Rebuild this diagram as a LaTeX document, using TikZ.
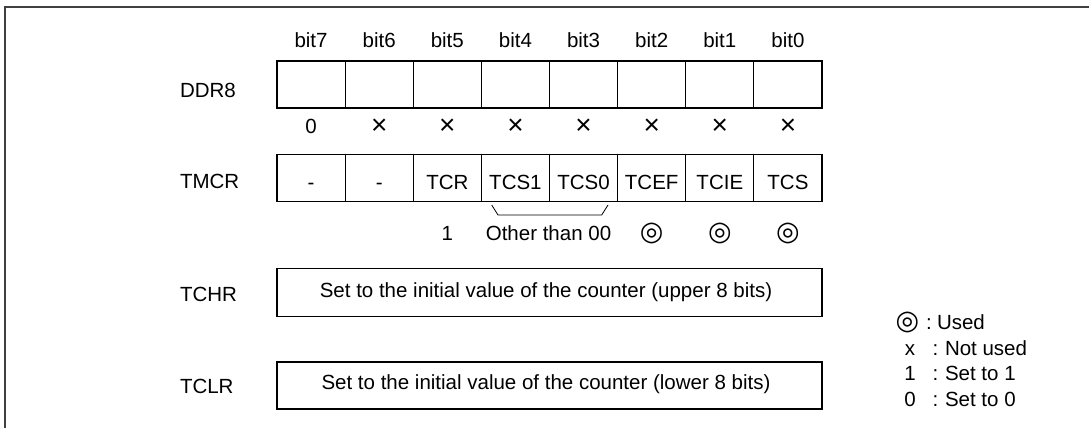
\documentclass[tikz,border=0pt]{standalone}
\usepackage{fontspec}
\setmainfont{Liberation Sans}
\newfontfamily\symfont{DejaVu Sans}
\begin{document}
\begin{tikzpicture}[x=1pt,y=-1pt,
  every node/.style={inner sep=0pt, outer sep=0pt},
  txt/.style={font=\fontsize{20.5}{24}\selectfont},
  cell/.style={minimum width=68.125pt, minimum height=47pt},
  outerbox/.style={draw, line width=1.8pt},
  divider/.style={line width=0.9pt},
  sym/.style={font=\symfont\fontsize{27}{30}\selectfont},
  cross/.style={font=\fontsize{28}{30}\selectfont}]
\useasboundingbox (0,0) rectangle (1089,428);
\draw[line width=1.2pt, black!75] (5,428) -- (5,7) -- (1089,7);
% register labels
\node[txt, anchor=base west] (lddr) at (180,97) {DDR8};
\node[txt, anchor=base west] (ltmcr) at (180,188) {TMCR};
\node[txt, anchor=base west] (ltchr) at (180,301) {TCHR};
\node[txt, anchor=base west] (ltclr) at (180,393) {TCLR};
% cells
\foreach \i/\b in {0/7,1/6,2/5,3/4,4/3,5/2,6/1,7/0}{
  \node[cell] (d\b) at ({277+68.125*(\i+0.5)},84.5) {};
  \node[cell] (t\b) at ({277+68.125*(\i+0.5)},178) {};
  \node[txt, anchor=base] (bit\b) at ({277+68.125*(\i+0.5)},48) {bit\b};
}
\foreach \b in {7,6,5,4,3,2,1}{
  \draw[divider] (d\b.north east) -- (d\b.south east);
  \draw[divider] (t\b.north east) -- (t\b.south east);
}
\draw[outerbox] (d7.north west) rectangle (d0.south east);
\draw[outerbox] (t7.north west) rectangle (t0.south east);
% DDR8 values
\node[txt, anchor=base] (v7) at (d7 |- 0,133) {0};
\foreach \b in {6,5,4,3,2,1,0}{
  \node[cross] (v\b) at (d\b |- 0,127) {×};
}
% TMCR bit names
\foreach \b/\n in {7/-,6/-,5/TCR,4/TCS1,3/TCS0,2/TCEF,1/TCIE,0/TCS}{
  \node[txt, anchor=base] (n\b) at (t\b |- 0,189) {\n};
}
% bracket under TCS1/TCS0
\coordinate (br1) at (491.7,205);
\coordinate (br2) at (498,215);
\coordinate (br3) at (601.7,215);
\coordinate (br4) at (608,205);
\draw[line width=0.8pt] (br1) -- (br2) -- (br3) -- (br4);
% settings row
\node[txt, anchor=base] (s5) at (t5 |- 0,240) {1};
\node[txt, anchor=base] (s43) at (548.5,240) {Other than 00};
\foreach \b in {2,1,0}{
  \node[sym] (s\b) at (t\b |- 0,233) {◎};
}
% counter registers
\node[outerbox, minimum width=545pt, minimum height=48pt] (tchr) at (549.5,292.5) {};
\node[txt, anchor=base] (tchrt) at (546,297) {Set to the initial value of the counter (upper 8 bits)};
\node[outerbox, minimum width=545pt, minimum height=47pt] (tclr) at (549.5,385.5) {};
\node[txt, anchor=base] (tclrt) at (546,389) {Set to the initial value of the counter (lower 8 bits)};
% legend
\node[sym] (g1s) at (907.5,322.5) {◎};
\node[txt, anchor=base] (g1c) at (929,329.5) {:};
\node[txt, anchor=base west] (g1t) at (937,329.5) {Used};
\node[txt, anchor=base] (g2s) at (910,355) {x};
\node[txt, anchor=base] (g2c) at (935.5,355) {:};
\node[txt, anchor=base west] (g2t) at (945,355) {Not used};
\node[txt, anchor=base] (g3s) at (910,380.5) {1};
\node[txt, anchor=base] (g3c) at (935.5,380.5) {:};
\node[txt, anchor=base west] (g3t) at (945,380.5) {Set to 1};
\node[txt, anchor=base] (g4s) at (910,406) {0};
\node[txt, anchor=base] (g4c) at (935.5,406) {:};
\node[txt, anchor=base west] (g4t) at (945,406) {Set to 0};
\end{tikzpicture}
\end{document}
